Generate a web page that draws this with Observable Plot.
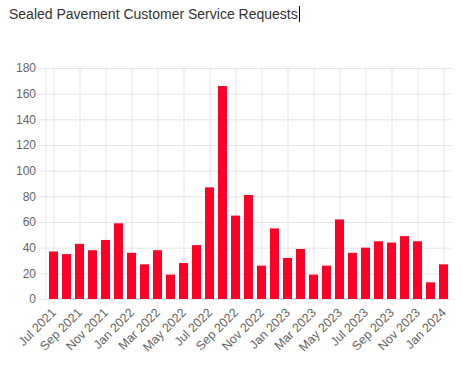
<!DOCTYPE html>
<html>
<head>
<meta charset="utf-8">
<script src="https://cdn.jsdelivr.net/npm/d3@7"></script>
<script src="https://cdn.jsdelivr.net/npm/@observablehq/plot@0.6"></script>
<style>
  body { margin: 0; background: #fff; width: 467px; height: 370px; overflow: hidden; font-family: "Liberation Sans", Arial, sans-serif; }
  #title { height: 40px; box-sizing: border-box; padding: 6px 0 0 9px; font-size: 14px; color: #333; white-space: nowrap; }
  #title .cursor { display: inline-block; width: 0; height: 16px; border-left: 1px solid #000; vertical-align: -3px; margin-left: 1px; }
  #chart svg { display: block; }
</style>
</head>
<body>
<div id="title">Sealed Pavement Customer Service Requests<span class="cursor"></span></div>
<div id="chart"></div>
<script>
const months = [
  "Jul 2021","Aug 2021","Sep 2021","Oct 2021","Nov 2021","Dec 2021",
  "Jan 2022","Feb 2022","Mar 2022","Apr 2022","May 2022","Jun 2022",
  "Jul 2022","Aug 2022","Sep 2022","Oct 2022","Nov 2022","Dec 2022",
  "Jan 2023","Feb 2023","Mar 2023","Apr 2023","May 2023","Jun 2023",
  "Jul 2023","Aug 2023","Sep 2023","Oct 2023","Nov 2023","Dec 2023",
  "Jan 2024"
];
const requests = [
  37, 35, 43, 38, 46, 59,
  36, 27, 38, 19, 28, 42,
  87, 166, 65, 81, 26, 55,
  32, 39, 19, 26, 62, 36,
  40, 45, 44, 49, 45, 13,
  27
];
const xTickLabels = [
  "Jul 2021","Sep 2021","Nov 2021","Jan 2022","Mar 2022","May 2022",
  "Jul 2022","Sep 2022","Nov 2022","Jan 2023","Mar 2023","May 2023",
  "Jul 2023","Sep 2023","Nov 2023","Jan 2024"
];
const yTicks = [0, 20, 40, 60, 80, 100, 120, 140, 160, 180];

const data = months.map((m, i) => ({month: m, value: requests[i]}));
const gridColor = "#e5e5e5";

const chart = Plot.plot({
  width: 467,
  height: 330,
  marginTop: 28,
  marginBottom: 71,
  marginLeft: 45.5,
  marginRight: 15.5,
  style: {fontFamily: "'Liberation Sans', Arial, sans-serif", fontSize: "12px", color: "#666", background: "#fff"},
  x: {domain: months, paddingInner: 0.28, paddingOuter: 0.14, label: null},
  y: {domain: [0, 180], label: null},
  marks: [
    Plot.gridX({ticks: xTickLabels, stroke: gridColor, strokeOpacity: 1}),
    Plot.gridY({ticks: yTicks, stroke: gridColor, strokeOpacity: 1}),
    Plot.frame({anchor: "left", stroke: gridColor, strokeOpacity: 1}),
    Plot.axisY({ticks: yTicks, tickSize: 7, tickPadding: 3, stroke: gridColor, color: "#666", fill: "#666", label: null}),
    Plot.axisX({ticks: xTickLabels, tickSize: 7, tickPadding: 4, tickRotate: -45, fontSize: 12.5, stroke: gridColor, color: "#666", fill: "#666", label: null}),
    Plot.barY(data, {x: "month", y: "value", fill: "#ff0027"})
  ]
});
document.getElementById("chart").appendChild(chart);
</script>
</body>
</html>
